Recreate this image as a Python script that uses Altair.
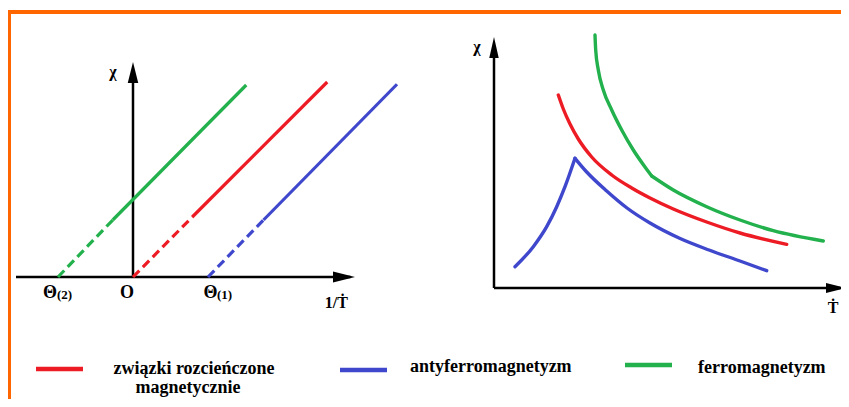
import altair as alt
import pandas as pd

# ---------------- data ----------------
series = ["związki rozcieńczone magnetycznie", "antyferromagnetyzm", "ferromagnetyzm"]
colors = ["#ed1c24", "#3f48cc", "#22b14c"]

# left panel: chi vs 1/T  (order: red, blue, green)
left_theta = [0.0, 1.0, -1.0]
left_break_u = [0.79, 1.74, -0.27]
left_break_chi = [0.80, 0.76, 0.76]
left_end_u = [2.59, 3.52, 1.51]
left_end_chi = [2.60, 2.57, 2.56]
left_tick_main = ["Θ", "O", "Θ"]
left_tick_sub = ["(2)", "", "(1)"]

# right panel: chi vs T
red_T = [6.43, 6.93, 7.6, 8.43, 9.77, 11.77, 13.77, 15.6, 17.93, 21.27, 24.6, 29.27]
red_chi = [19.3, 17.9, 16.4, 14.9, 13.1, 11.3, 10.0, 9.0, 7.9, 6.6, 5.5, 4.37]
blue_T = [2.1, 3.93, 5.27, 6.27, 7.1, 8.1, 9.27, 11.27, 13.3, 15.6, 18.5, 21.5, 24.6, 27.27]
blue_chi = [2.13, 4.13, 6.13, 8.13, 10.13, 12.97, 11.6, 9.7, 8.0, 6.5, 5.0, 3.8, 2.7, 1.73]
blue_kink = 5
green_T = [10.1, 10.17, 10.43, 10.93, 11.77, 12.77, 13.93, 15.1, 15.77, 17.93, 21.27, 24.6, 27.93, 32.93]
green_chi = [25.3, 23.8, 21.8, 19.8, 17.8, 15.8, 13.8, 12.1, 11.2, 9.8, 8.13, 6.8, 5.73, 4.7]
green_kink = 8

legend_lines = [["związki rozcieńczone", "magnetycznie"], ["antyferromagnetyzm"], ["ferromagnetyzm"]]

# ---------------- layout ----------------
W, H = 833, 391
FONT = "Liberation Serif"


def sc(d0, d1, r0, r1):
    return alt.Scale(domain=[d0, d1], range=[r0, r1], nice=False, zero=False)


LX = lambda: sc(0, 1, 125, 200)
LY = lambda: sc(0, 1, 269, 194)
RX = lambda: sc(0, 10, 486, 586)
RY = lambda: sc(0, 10, 280, 180)
CX = lambda: sc(0, 100, 0, 100)
CY = lambda: sc(0, 100, 0, 100)
CS = alt.Scale(domain=series, range=colors)

UP = "M0,0L0.5,2L-0.5,2Z"
RIGHT = "M0,0L-2,-0.5L-2,0.5Z"


def X(f, s):
    return alt.X(f, scale=s(), axis=None)


def Y(f, s):
    return alt.Y(f, scale=s(), axis=None)


layers = []

# ----- frame -----
frame = pd.DataFrame({"x0": [0.0], "x1": [W], "y0": [4.0], "xl": [1.5], "yl0": [2.0], "yl1": [H]})
layers.append(alt.Chart(frame).mark_rule(color="#ff6600", strokeWidth=4).encode(
    x=X("x0:Q", CX), x2="x1:Q", y=Y("y0:Q", CY)))
layers.append(alt.Chart(frame).mark_rule(color="#ff6600", strokeWidth=3).encode(
    x=X("xl:Q", CX), y=Y("yl0:Q", CY), y2="yl1:Q"))

# ----- left panel -----
dash_rows, solid_rows = [], []
for s, t, bu, bc, eu, ec in zip(series, left_theta, left_break_u, left_break_chi, left_end_u, left_end_chi):
    dash_rows += [{"s": s, "u": t, "chi": 0.0, "o": 0}, {"s": s, "u": bu, "chi": bc, "o": 1}]
    solid_rows += [{"s": s, "u": bu, "chi": bc, "o": 0}, {"s": s, "u": eu, "chi": ec, "o": 1}]

laxes = pd.DataFrame({"u0": [-1.56], "u1": [2.90], "c0": [0.0], "c1": [2.75], "z": [0.0],
                      "tipu": [2.96], "tipc": [2.867]})
layers.append(alt.Chart(laxes).mark_rule(color="black", strokeWidth=2.5).encode(
    x=X("u0:Q", LX), x2="u1:Q", y=Y("z:Q", LY)))
layers.append(alt.Chart(laxes).mark_rule(color="black", strokeWidth=2.5).encode(
    x=X("z:Q", LX), y=Y("z:Q", LY), y2="c1:Q"))
layers.append(alt.Chart(laxes).mark_point(shape=UP, filled=True, size=441, color="black", opacity=1, strokeWidth=0).encode(
    x=X("z:Q", LX), y=Y("tipc:Q", LY)))
layers.append(alt.Chart(laxes).mark_point(shape=RIGHT, filled=True, size=484, color="black", opacity=1, strokeWidth=0).encode(
    x=X("tipu:Q", LX), y=Y("z:Q", LY)))

layers.append(alt.Chart(pd.DataFrame(dash_rows)).mark_line(strokeWidth=3.2, strokeDash=[9, 5]).encode(
    x=X("u:Q", LX), y=Y("chi:Q", LY), color=alt.Color("s:N", scale=CS, legend=None), order="o:Q"))
layers.append(alt.Chart(pd.DataFrame(solid_rows)).mark_line(strokeWidth=3.2).encode(
    x=X("u:Q", LX), y=Y("chi:Q", LY), color=alt.Color("s:N", scale=CS, legend=None), order="o:Q"))

# left labels
ticks = pd.DataFrame({"main": left_tick_main,
                      "sub": left_tick_sub,
                      "mu": [-1.107, -0.08, 1.033], "su": [-1.013, 0.0, 1.12], "c": [-0.213] * 3})
layers.append(alt.Chart(ticks).mark_text(font=FONT, fontWeight="bold", fontSize=18, baseline="middle", align="center").encode(
    x=X("mu:Q", LX), y=Y("c:Q", LY), text="main:N"))
layers.append(alt.Chart(ticks).mark_text(font=FONT, fontWeight="bold", fontSize=13, baseline="middle", align="left", dy=2).encode(
    x=X("su:Q", LX), y=Y("c:Q", LY), text="sub:N"))
ltxt = pd.DataFrame({"t": ["χ", "1/Ṫ"], "u": [-0.267, 2.71], "c": [2.73, -0.347], "fs": [16, 16]})
layers.append(alt.Chart(ltxt).mark_text(font=FONT, fontWeight="bold", baseline="middle", align="center").encode(
    x=X("u:Q", LX), y=Y("c:Q", LY), text="t:N", size=alt.Size("fs:Q", scale=None, legend=None)))

# ----- right panel -----
raxes = pd.DataFrame({"z": [0.0], "t1": [34.6], "c1": [24.2], "tipt": [35.2], "tipc": [25.1]})
layers.append(alt.Chart(raxes).mark_rule(color="black", strokeWidth=2.5).encode(
    x=X("z:Q", RX), x2="t1:Q", y=Y("z:Q", RY)))
layers.append(alt.Chart(raxes).mark_rule(color="black", strokeWidth=2.5).encode(
    x=X("z:Q", RX), y=Y("z:Q", RY), y2="c1:Q"))
layers.append(alt.Chart(raxes).mark_point(shape="M0,0L0.45,2L-0.45,2Z", filled=True, size=441, color="black", opacity=1, strokeWidth=0).encode(
    x=X("z:Q", RX), y=Y("tipc:Q", RY)))
layers.append(alt.Chart(raxes).mark_point(shape=RIGHT, filled=True, size=400, color="black", opacity=1, strokeWidth=0).encode(
    x=X("tipt:Q", RX), y=Y("z:Q", RY)))

rows = []
for t, c in zip(red_T, red_chi):
    rows.append({"s": series[0], "seg": "r", "T": t, "chi": c})
for i, (t, c) in enumerate(zip(blue_T, blue_chi)):
    if i <= blue_kink:
        rows.append({"s": series[1], "seg": "b1", "T": t, "chi": c})
    if i >= blue_kink:
        rows.append({"s": series[1], "seg": "b2", "T": t, "chi": c})
for i, (t, c) in enumerate(zip(green_T, green_chi)):
    if i <= green_kink:
        rows.append({"s": series[2], "seg": "g1", "T": t, "chi": c})
    if i >= green_kink:
        rows.append({"s": series[2], "seg": "g2", "T": t, "chi": c})
layers.append(alt.Chart(pd.DataFrame(rows)).mark_line(strokeWidth=3.4, interpolate="monotone", strokeCap="round").encode(
    x=X("T:Q", RX), y=Y("chi:Q", RY), color=alt.Color("s:N", scale=CS, legend=None), detail="seg:N"))

rtxt = pd.DataFrame({"t": ["χ", "Ṫ"], "T": [-1.7, 33.9], "c": [24.1, -2.0], "fs": [16, 16]})
layers.append(alt.Chart(rtxt).mark_text(font=FONT, fontWeight="bold", baseline="middle", align="center").encode(
    x=X("T:Q", RX), y=Y("c:Q", RY), text="t:N", size=alt.Size("fs:Q", scale=None, legend=None)))

# ----- legend -----
sw_x0 = [28, 332, 617]
sw_x1 = [75, 379, 664]
sw_y = [361, 362, 357]
sw = pd.DataFrame({"s": series, "x0": sw_x0, "x1": sw_x1, "y": sw_y})
layers.append(alt.Chart(sw).mark_rule(strokeWidth=4.5).encode(
    x=X("x0:Q", CX), x2="x1:Q", y=Y("y:Q", CY), color=alt.Color("s:N", scale=CS, legend=None)))

lt_rows = []
lt_pos = [[(186, 361, "center"), (180, 380, "center")], [(402, 359, "left")], [(690, 360, "left")]]
for lines, pos in zip(legend_lines, lt_pos):
    for txt, (px, py, al) in zip(lines, pos):
        lt_rows.append({"t": txt, "x": px, "y": py, "al": al})
lt = pd.DataFrame(lt_rows)
layers.append(alt.Chart(lt[lt.al == "center"]).mark_text(font=FONT, fontWeight="bold", fontSize=18, align="center", baseline="middle").encode(
    x=X("x:Q", CX), y=Y("y:Q", CY), text="t:N"))
layers.append(alt.Chart(lt[lt.al == "left"]).mark_text(font=FONT, fontWeight="bold", fontSize=18, align="left", baseline="middle").encode(
    x=X("x:Q", CX), y=Y("y:Q", CY), text="t:N"))

chart = alt.layer(*layers).resolve_scale(x="independent", y="independent").properties(
    width=W, height=H, autosize="none", padding=0, background="white"
).configure_view(strokeWidth=0)

chart.save("out.html", embed_options={"renderer": "svg", "actions": False})
